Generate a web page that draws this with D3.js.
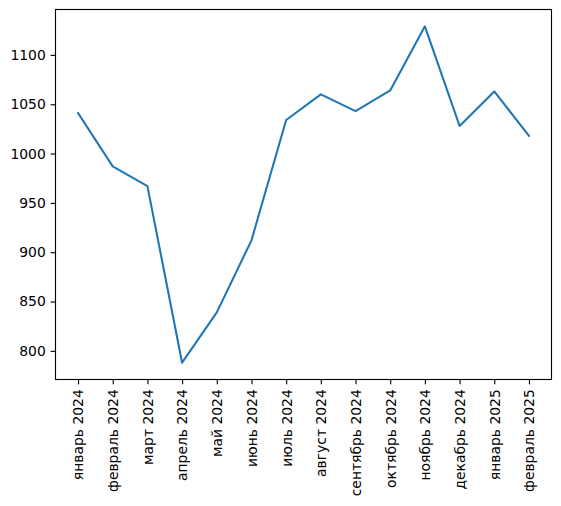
<!DOCTYPE html>
<html>
<head>
<meta charset="utf-8">
<script src="https://cdn.jsdelivr.net/npm/d3@7"></script>
<style>
  body { margin: 0; background: #fff; }
  svg text { font-family: "DejaVu Sans", sans-serif; font-size: 13.9px; fill: #000; }
</style>
</head>
<body>
<div id="chart"></div>
<script>
const months = ['январь 2024', 'февраль 2024', 'март 2024', 'апрель 2024', 'май 2024', 'июнь 2024',
                'июль 2024', 'август 2024', 'сентябрь 2024', 'октябрь 2024', 'ноябрь 2024',
                'декабрь 2024', 'январь 2025', 'февраль 2025'];
const values = [1041, 987, 967, 788, 839, 912, 1034, 1060, 1043, 1064, 1129, 1028, 1063, 1018];
const yTicks = [800, 850, 900, 950, 1000, 1050, 1100];

const svgWidth = 561, svgHeight = 506;
const plotLeft = 55.5, plotRight = 551.5, plotTop = 9.5, plotBottom = 379.5;
const tickLen = 4.86, tickPad = 4.86;

const svg = d3.select('#chart')
              .append('svg')
              .attr('width', svgWidth)
              .attr('height', svgHeight);

// matplotlib style 5% margins
const n = months.length;
const xPad = (n - 1) * 0.05;
const xScale = d3.scaleLinear()
                 .domain([-xPad, n - 1 + xPad])
                 .range([plotLeft, plotRight]);

const yMin = d3.min(values), yMax = d3.max(values);
const yPad = (yMax - yMin) * 0.05;
const yScale = d3.scaleLinear()
                 .domain([yMin - yPad, yMax + yPad])
                 .range([plotBottom, plotTop]);

// line
const line = d3.line()
               .x((d, i) => xScale(i))
               .y(d => yScale(d));

svg.append('path')
   .datum(values)
   .attr('d', line)
   .attr('fill', 'none')
   .attr('stroke', '#1f77b4')
   .attr('stroke-width', 2.08)
   .attr('stroke-linejoin', 'round')
   .attr('stroke-linecap', 'square');

// x-axis
const xAxis = d3.axisBottom(xScale)
                .tickValues(d3.range(n))
                .tickFormat(i => months[i])
                .tickSize(tickLen)
                .tickPadding(tickPad)
                .tickSizeOuter(0);

const gx = svg.append('g')
              .attr('transform', 'translate(0,' + plotBottom + ')')
              .call(xAxis);
gx.select('.domain').remove();
gx.selectAll('line').attr('stroke', '#000').attr('stroke-width', 1.11);
gx.selectAll('text')
  .attr('transform', 'rotate(-90)')
  .attr('text-anchor', 'end')
  .attr('dy', '0.35em')
  .attr('x', -(tickLen + tickPad))
  .attr('y', 0);

// y-axis
const yAxis = d3.axisLeft(yScale)
                .tickValues(yTicks)
                .tickFormat(d3.format('d'))
                .tickSize(tickLen)
                .tickPadding(tickPad)
                .tickSizeOuter(0);

const gy = svg.append('g')
              .attr('transform', 'translate(' + plotLeft + ',0)')
              .call(yAxis);
gy.select('.domain').remove();
gy.selectAll('line').attr('stroke', '#000').attr('stroke-width', 1.11);

// frame
svg.append('rect')
   .attr('x', plotLeft)
   .attr('y', plotTop)
   .attr('width', plotRight - plotLeft)
   .attr('height', plotBottom - plotTop)
   .attr('fill', 'none')
   .attr('stroke', '#000')
   .attr('stroke-width', 1.11);
</script>
</body>
</html>
